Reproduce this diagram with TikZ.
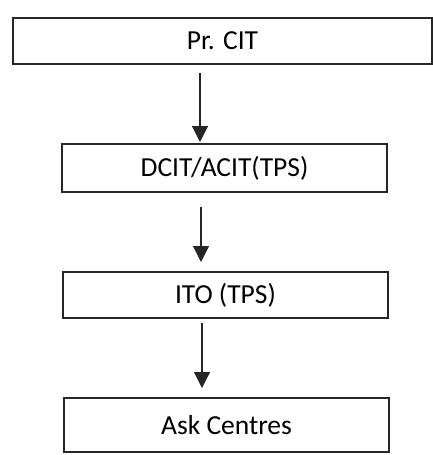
\documentclass[tikz,border=0pt]{standalone}
\usepackage{fontspec}
\setmainfont{Carlito}
\usetikzlibrary{arrows.meta}
\begin{document}
\begin{tikzpicture}[x=1pt,y=-1pt,
  box/.style={draw=black!85,line width=1.3pt,rectangle,inner sep=0pt,font=\fontsize{27.5}{32}\selectfont},
  link/.style={draw=black!85,line width=1.2pt,-{Triangle[width=16pt,length=16pt]}}]
\useasboundingbox (0,0) rectangle (433,455);
\node[box,minimum width=419pt,minimum height=46pt] (b1) at (222.5,41) {Pr. CIT};
\node[box,minimum width=325pt,minimum height=48pt] (b2) at (224.5,168) {DCIT/ACIT(TPS)};
\node[box,minimum width=325pt,minimum height=46pt] (b3) at (225.5,295) {ITO (TPS)};
\node[box,minimum width=325pt,minimum height=54pt] (b4) at (226.5,425) {Ask Centres};
\coordinate (a1s) at (200,73);
\coordinate (a1e) at (200,142);
\coordinate (a2s) at (201,207);
\coordinate (a2e) at (201,262);
\coordinate (a3s) at (202,323);
\coordinate (a3e) at (202,388);
\draw[link] (a1s) -- (a1e);
\draw[link] (a2s) -- (a2e);
\draw[link] (a3s) -- (a3e);
\end{tikzpicture}
\end{document}
